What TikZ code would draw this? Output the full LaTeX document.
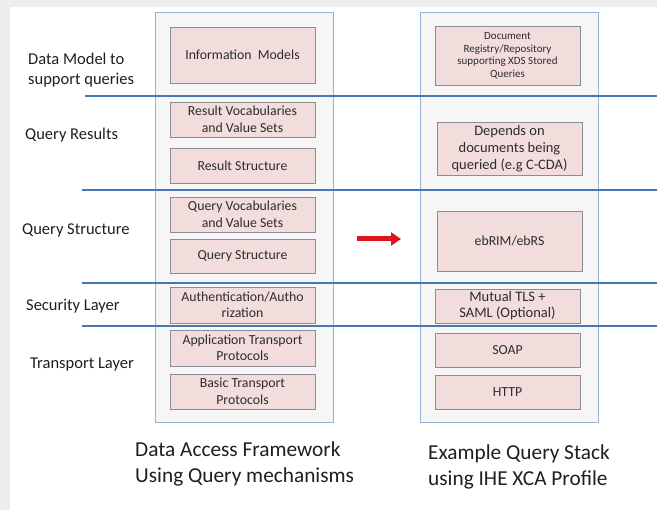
\documentclass[tikz,border=0pt]{standalone}
\usepackage{fontspec}
\setmainfont{Carlito}
\usetikzlibrary{shadows,arrows.meta}
\definecolor{pinkfill}{RGB}{242,221,220}
\definecolor{colfill}{RGB}{246,246,247}
\definecolor{colborder}{RGB}{150,178,212}
\definecolor{layerline}{RGB}{70,120,180}
\definecolor{boxborder}{RGB}{140,140,150}
\definecolor{boxtext}{RGB}{45,45,45}
\definecolor{arrowred}{RGB}{220,20,30}
\tikzset{
  column/.style={draw=colborder, fill=colfill, line width=0.8pt, minimum width=178pt, minimum height=410pt, inner sep=0pt},
  layerbox/.style={draw=boxborder, fill=pinkfill, line width=0.7pt, align=center, text=boxtext,
     font=\fontsize{13.8}{16.5}\selectfont, minimum width=145pt, inner sep=0.5pt,
     drop shadow={shadow xshift=1.2pt, shadow yshift=-1.2pt, opacity=0.35}},
  layerlabel/.style={anchor=west, align=left, text=black!88, font=\fontsize{16.5}{19.5}\selectfont, inner sep=0pt},
  caption/.style={anchor=west, align=left, text=black!88, font=\fontsize{21.3}{26.5}\selectfont, inner sep=0pt},
  sep/.style={draw=layerline, line width=1.8pt}
}
\begin{document}
\begin{tikzpicture}[x=1pt,y=-1pt]
\useasboundingbox (0,0) rectangle (657,510);
\fill[white] (0,0) rectangle (657,510);
\fill[black!7] (0,0) rectangle (10,510);
\fill[black!7] (0,0) rectangle (657,7);
% columns
\node[column] (colL) at (244,217) {};
\node[column] (colR) at (509.5,217) {};
% layer separators
\coordinate (s1a) at (85,96);  \coordinate (s1b) at (657,96);
\coordinate (s2a) at (82,190); \coordinate (s2b) at (657,190);
\coordinate (s3a) at (82,283); \coordinate (s3b) at (657,283);
\coordinate (s4a) at (82,326); \coordinate (s4b) at (657,326);
\draw[sep] (s1a) -- (s1b);
\draw[sep] (s2a) -- (s2b);
\draw[sep] (s3a) -- (s3b);
\draw[sep] (s4a) -- (s4b);
% left boxes
\node[layerbox, minimum height=56pt] (L1) at (242.5,55) {Information\ \ Models};
\node[layerbox, minimum height=35pt] (L2) at (242.5,119.5) {Result Vocabularies\\and Value Sets};
\node[layerbox, minimum height=35pt] (L3) at (242.5,165.5) {Result Structure};
\node[layerbox, minimum height=35pt] (L4) at (242.5,214.5) {Query Vocabularies\\and Value Sets};
\node[layerbox, minimum height=34pt] (L5) at (242.5,256) {Query Structure};
\node[layerbox, minimum height=36pt] (L6) at (242.5,305) {Authentication/Autho\\rization};
\node[layerbox, minimum height=36pt] (L7) at (242.5,348) {Application Transport\\Protocols};
\node[layerbox, minimum height=35pt] (L8) at (242.5,391.5) {Basic Transport\\Protocols};
% right boxes
\node[layerbox, minimum height=59pt, font=\fontsize{11}{12.5}\selectfont] (R1) at (507.5,55.5) {Document\\Registry/Repository\\supporting XDS Stored\\Queries};
\node[layerbox, minimum height=53pt, font=\fontsize{14.5}{17}\selectfont] (R2) at (509.5,148.5) {Depends on\\documents being\\queried (e.g C-CDA)};
\node[layerbox, minimum height=60pt] (R3) at (509.5,241) {ebRIM/ebRS};
\node[layerbox, minimum height=34pt, font=\fontsize{14.5}{16}\selectfont] (R4) at (507.5,306) {Mutual TLS +\\SAML (Optional)};
\node[layerbox, minimum height=34pt] (R5) at (507.5,350) {SOAP};
\node[layerbox, minimum height=34pt] (R6) at (507.5,392) {HTTP};
% arrow
\coordinate (a1) at (357,239);
\coordinate (a2) at (401,239);
\draw[arrowred, line width=5pt, -{Triangle[length=10pt,width=13pt]}] (a1) -- (a2);
% layer labels
\node[layerlabel] (t1) at (28,70) {Data Model to\\support queries};
\node[layerlabel] (t2) at (25,135) {Query Results};
\node[layerlabel] (t3) at (22,230) {Query Structure};
\node[layerlabel] (t4) at (26,306) {Security Layer};
\node[layerlabel] (t5) at (30,365) {Transport Layer};
% captions
\node[caption] (c1) at (135,464) {Data Access Framework\\Using Query mechanisms};
\node[caption] (c2) at (428,467) {Example Query Stack\\using IHE XCA Profile};
\end{tikzpicture}
\end{document}
